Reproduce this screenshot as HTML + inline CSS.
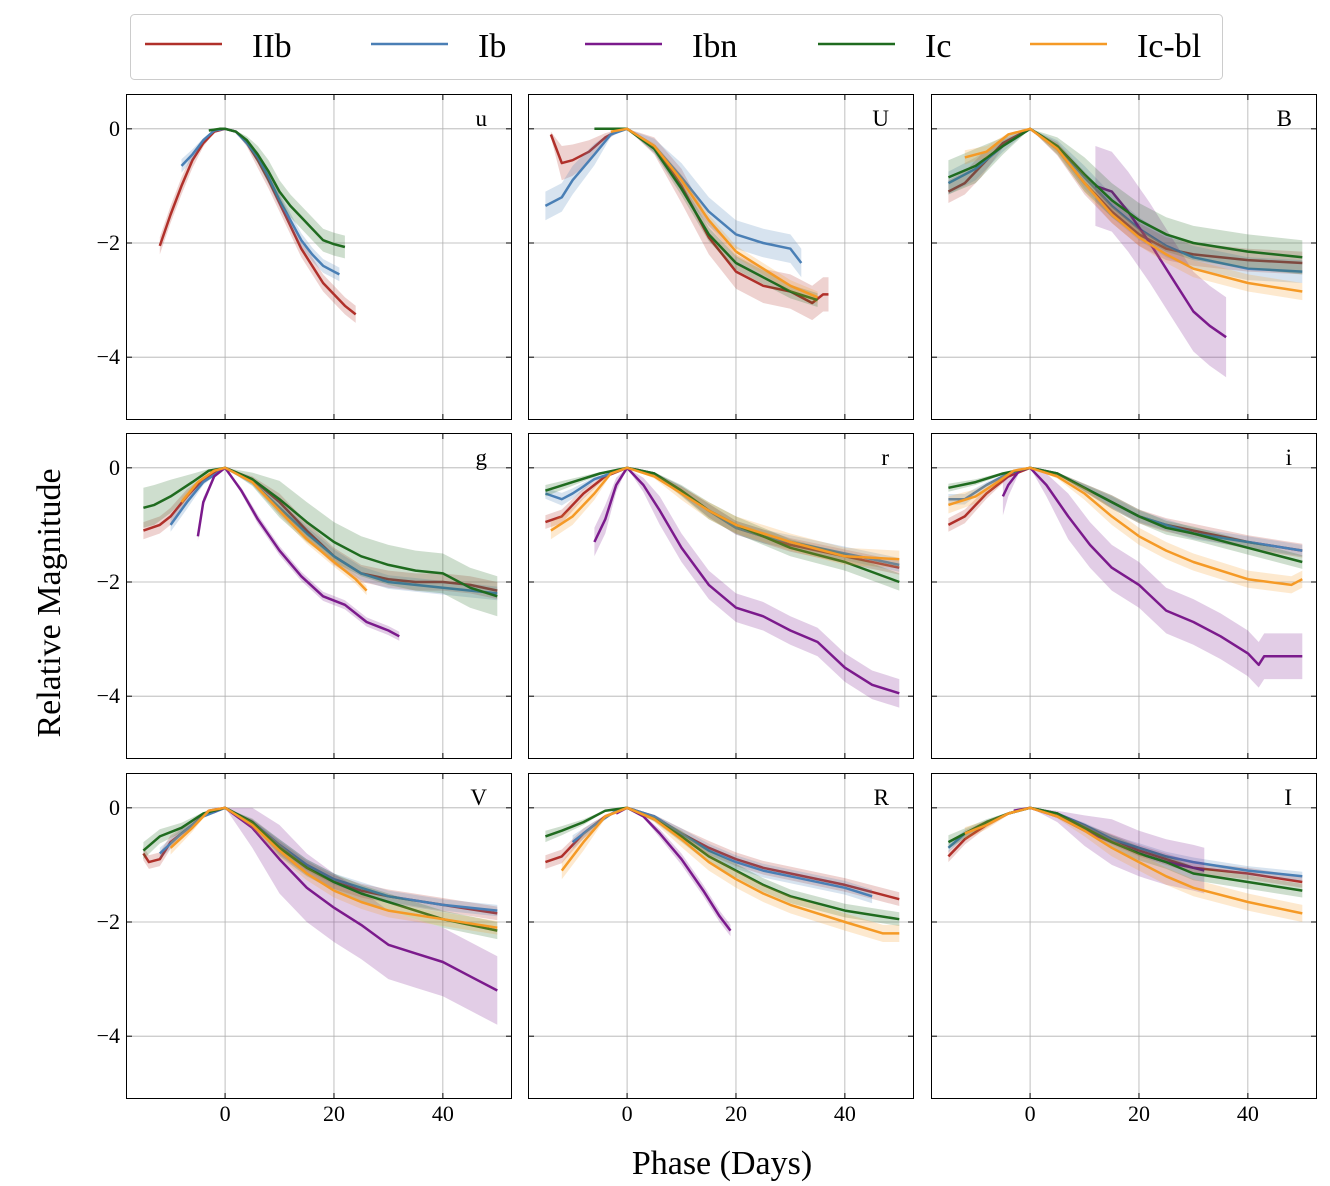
<!DOCTYPE html>
<html><head><meta charset="utf-8">
<style>
html,body{margin:0;padding:0;background:#fff;}
svg{display:block;font-family:"Liberation Serif",serif;}
</style></head>
<body>
<svg id="chart" width="1330" height="1186" viewBox="0 0 1330 1186">
  <rect x="0" y="0" width="1330" height="1186" fill="#fff"/>
  <g>
    <rect x="130.5" y="14.5" width="1092" height="65" rx="4" fill="#fff" stroke="#ccc" stroke-width="1"/>
    <g><line x1="145" y1="44" x2="222" y2="44" stroke="#b0302a" stroke-width="2.5"/><text x="252" y="57" font-size="34">IIb</text></g>
    <g><line x1="371" y1="44" x2="448" y2="44" stroke="#4a7fb5" stroke-width="2.5"/><text x="478" y="57" font-size="34">Ib</text></g>
    <g><line x1="585" y1="44" x2="662" y2="44" stroke="#7b1a8c" stroke-width="2.5"/><text x="692" y="57" font-size="34">Ibn</text></g>
    <g><line x1="818" y1="44" x2="895" y2="44" stroke="#1f6b1f" stroke-width="2.5"/><text x="925" y="57" font-size="34">Ic</text></g>
    <g><line x1="1030" y1="44" x2="1107" y2="44" stroke="#f59a26" stroke-width="2.5"/><text x="1137" y="57" font-size="34">Ic-bl</text></g>
  </g>
  <text x="60" y="603" font-size="34" text-anchor="middle" transform="rotate(-90 60 603)">Relative Magnitude</text>
  <text x="722" y="1174" font-size="34" text-anchor="middle">Phase (Days)</text>
  <g id="panels"></g>
</svg>
<script>
// ---- chart data ----
const xTicks = [0, 20, 40];
const yTicks = [0, -2, -4];
const xTickLabels = ["0", "20", "40"];
const yTickLabels = ["0", "\u22122", "\u22124"];
const typeNames = ["IIb", "Ib", "Ibn", "Ic", "Ic-bl"];
const typeColors = ["#b0302a", "#4a7fb5", "#7b1a8c", "#1f6b1f", "#f59a26"];
const bandNames = ["u", "U", "B", "g", "r", "i", "V", "R", "I"];

// u band
const u_IIb_t = [-12,-10,-8,-6,-4,-2,0,2,4,6,8,10,12,14,16,18,20,22,24];
const u_IIb_m = [-2.05,-1.5,-1.0,-0.55,-0.25,-0.05,0,-0.05,-0.25,-0.55,-0.9,-1.3,-1.7,-2.1,-2.4,-2.7,-2.9,-3.1,-3.25];
const u_Ib_t = [-8,-6,-4,-2,0,2,4,6,8,10,12,14,16,18,20,21];
const u_Ib_m = [-0.65,-0.45,-0.2,-0.03,0,-0.05,-0.25,-0.5,-0.85,-1.25,-1.6,-1.95,-2.2,-2.4,-2.5,-2.55];
const u_Ic_t = [-3,-1,0,2,4,6,8,10,12,14,16,18,20,22];
const u_Ic_m = [-0.03,0,0,-0.05,-0.2,-0.45,-0.75,-1.1,-1.35,-1.55,-1.75,-1.95,-2.02,-2.07];
// U band
const U_IIb_t = [-14,-12,-10,-7,-4,-1,0,5,10,15,20,25,30,34,36,37];
const U_IIb_m = [-0.1,-0.6,-0.55,-0.4,-0.15,0,0,-0.3,-1.0,-1.9,-2.5,-2.75,-2.85,-3.05,-2.9,-2.9];
const U_Ib_t = [-15,-12,-10,-6,-3,0,5,10,15,20,25,30,32];
const U_Ib_m = [-1.35,-1.2,-0.9,-0.45,-0.1,0,-0.3,-0.85,-1.45,-1.85,-2.0,-2.1,-2.35];
const U_Ic_t = [-6,0,5,10,15,20,25,30,35];
const U_Ic_m = [0,0,-0.35,-1.05,-1.85,-2.35,-2.6,-2.85,-3.0];
const U_Icbl_t = [-3,0,5,10,15,20,25,30,35];
const U_Icbl_m = [-0.05,0,-0.3,-0.9,-1.6,-2.15,-2.45,-2.75,-2.95];
// B band
const B_IIb_t = [-15,-12,-9,-5,0,5,10,15,20,25,30,35,40,50];
const B_IIb_m = [-1.1,-0.95,-0.65,-0.25,0,-0.35,-0.95,-1.45,-1.85,-2.1,-2.2,-2.25,-2.3,-2.35];
const B_Ib_t = [-15,-10,-5,0,5,10,15,20,25,30,35,40,50];
const B_Ib_m = [-0.95,-0.7,-0.3,0,-0.3,-0.85,-1.35,-1.75,-2.05,-2.25,-2.35,-2.45,-2.5];
const B_Ibn_t = [12,15,18,22,26,30,33,36];
const B_Ibn_m = [-1.0,-1.1,-1.45,-2.0,-2.6,-3.2,-3.45,-3.65];
const B_Ic_t = [-15,-10,-5,0,5,10,15,20,25,30,40,50];
const B_Ic_m = [-0.85,-0.65,-0.3,0,-0.3,-0.8,-1.25,-1.6,-1.85,-2.0,-2.15,-2.25];
const B_Icbl_t = [-12,-8,-4,0,5,10,15,20,25,30,40,50];
const B_Icbl_m = [-0.5,-0.4,-0.1,0,-0.35,-0.95,-1.5,-1.9,-2.2,-2.45,-2.7,-2.85];
// g band
const g_IIb_t = [-15,-12,-10,-7,-4,0,5,10,15,20,25,30,35,40,45,50];
const g_IIb_m = [-1.1,-1.0,-0.85,-0.5,-0.2,0,-0.2,-0.6,-1.1,-1.55,-1.85,-1.95,-2.0,-2.0,-2.05,-2.15];
const g_Ib_t = [-10,-7,-4,0,5,10,15,20,25,30,40,50];
const g_Ib_m = [-1.0,-0.6,-0.25,0,-0.25,-0.7,-1.15,-1.55,-1.85,-2.0,-2.1,-2.2];
const g_Ibn_t = [-5,-4,-2,0,3,6,10,14,18,22,26,30,32];
const g_Ibn_m = [-1.2,-0.6,-0.15,0,-0.4,-0.9,-1.45,-1.9,-2.25,-2.4,-2.7,-2.85,-2.95];
const g_Ic_t = [-15,-13,-10,-6,-3,0,5,10,15,20,25,30,35,40,45,50];
const g_Ic_m = [-0.7,-0.65,-0.5,-0.25,-0.05,0,-0.2,-0.55,-0.95,-1.3,-1.55,-1.7,-1.8,-1.85,-2.1,-2.25];
const g_Icbl_t = [-8,-5,-2,0,5,10,15,20,24,26];
const g_Icbl_m = [-0.6,-0.25,-0.05,0,-0.25,-0.75,-1.25,-1.65,-1.95,-2.15];
// r band
const r_IIb_t = [-15,-12,-8,-4,0,5,10,15,20,25,30,40,50];
const r_IIb_m = [-0.95,-0.85,-0.45,-0.15,0,-0.1,-0.4,-0.75,-1.05,-1.2,-1.35,-1.55,-1.75];
const r_Ib_t = [-15,-12,-10,-6,0,5,10,15,20,25,30,40,50];
const r_Ib_m = [-0.45,-0.55,-0.45,-0.2,0,-0.1,-0.4,-0.75,-1.05,-1.2,-1.3,-1.5,-1.7];
const r_Ibn_t = [-6,-4,-2,0,3,6,10,15,20,25,30,35,40,45,50];
const r_Ibn_m = [-1.3,-0.9,-0.3,0,-0.3,-0.75,-1.4,-2.05,-2.45,-2.6,-2.85,-3.05,-3.5,-3.8,-3.95];
const r_Ic_t = [-15,-10,-5,0,5,10,15,20,25,30,40,50];
const r_Ic_m = [-0.4,-0.25,-0.1,0,-0.1,-0.4,-0.75,-1.0,-1.2,-1.4,-1.65,-2.0];
const r_Icbl_t = [-14,-10,-6,-3,0,5,10,15,20,25,30,40,50];
const r_Icbl_m = [-1.1,-0.85,-0.45,-0.1,0,-0.15,-0.45,-0.75,-1.0,-1.15,-1.3,-1.55,-1.6];
// i band
const i_IIb_t = [-15,-12,-8,-4,0,5,10,15,20,25,30,40,50];
const i_IIb_m = [-1.0,-0.85,-0.45,-0.15,0,-0.1,-0.35,-0.6,-0.85,-1.0,-1.1,-1.3,-1.45];
const i_Ib_t = [-15,-12,-8,-4,0,5,10,15,20,25,30,40,50];
const i_Ib_m = [-0.55,-0.55,-0.3,-0.1,0,-0.1,-0.35,-0.6,-0.85,-1.0,-1.15,-1.3,-1.45];
const i_Ibn_t = [-5,-4,-2,0,3,7,11,15,20,25,30,35,40,42,43,50];
const i_Ibn_m = [-0.5,-0.3,-0.05,0,-0.3,-0.85,-1.35,-1.75,-2.05,-2.5,-2.7,-2.95,-3.25,-3.45,-3.3,-3.3];
const i_Ic_t = [-15,-10,-5,0,5,10,15,20,25,30,40,50];
const i_Ic_m = [-0.35,-0.25,-0.1,0,-0.1,-0.35,-0.6,-0.85,-1.05,-1.15,-1.4,-1.65];
const i_Icbl_t = [-15,-10,-6,-3,0,5,10,15,20,25,30,40,48,50];
const i_Icbl_m = [-0.65,-0.5,-0.25,-0.05,0,-0.15,-0.45,-0.85,-1.2,-1.45,-1.65,-1.95,-2.05,-1.95];
// V band
const V_IIb_t = [-15,-14,-12,-10,-6,-3,0,5,10,15,20,25,30,40,50];
const V_IIb_m = [-0.8,-0.95,-0.9,-0.6,-0.3,-0.05,0,-0.25,-0.7,-1.05,-1.3,-1.45,-1.55,-1.7,-1.85];
const V_Ib_t = [-12,-8,-4,0,5,10,15,20,25,30,40,50];
const V_Ib_m = [-0.8,-0.45,-0.15,0,-0.25,-0.65,-1.0,-1.25,-1.4,-1.55,-1.7,-1.8];
const V_Ibn_t = [-2,0,5,10,15,20,25,30,35,40,45,50];
const V_Ibn_m = [-0.05,0,-0.35,-0.9,-1.4,-1.75,-2.05,-2.4,-2.55,-2.7,-2.95,-3.2];
const V_Ic_t = [-15,-12,-8,-4,0,5,10,15,20,25,30,40,50];
const V_Ic_m = [-0.75,-0.5,-0.35,-0.1,0,-0.25,-0.7,-1.05,-1.3,-1.5,-1.65,-1.95,-2.15];
const V_Icbl_t = [-10,-6,-3,0,5,10,15,20,25,30,40,50];
const V_Icbl_m = [-0.7,-0.35,-0.05,0,-0.3,-0.75,-1.15,-1.45,-1.65,-1.8,-1.95,-2.1];
// R band
const R_IIb_t = [-15,-12,-8,-4,0,5,10,15,20,25,30,40,50];
const R_IIb_m = [-0.95,-0.85,-0.45,-0.15,0,-0.15,-0.45,-0.7,-0.9,-1.05,-1.15,-1.35,-1.6];
const R_Ib_t = [-10,-6,-2,0,5,10,15,20,25,30,40,45];
const R_Ib_m = [-0.6,-0.3,-0.05,0,-0.15,-0.45,-0.75,-0.95,-1.1,-1.2,-1.4,-1.55];
const R_Ibn_t = [-2,0,3,6,10,14,17,19];
const R_Ibn_m = [-0.1,0,-0.15,-0.45,-0.9,-1.45,-1.9,-2.15];
const R_Ic_t = [-15,-12,-8,-4,0,5,10,15,20,25,30,40,50];
const R_Ic_m = [-0.5,-0.4,-0.25,-0.05,0,-0.2,-0.5,-0.85,-1.1,-1.35,-1.55,-1.8,-1.95];
const R_Icbl_t = [-12,-8,-4,0,5,10,15,20,25,30,40,47,50];
const R_Icbl_m = [-1.1,-0.6,-0.15,0,-0.2,-0.55,-0.95,-1.25,-1.5,-1.7,-2.0,-2.2,-2.2];
// I band
const I_IIb_t = [-15,-12,-8,-4,0,5,10,15,20,25,30,40,50];
const I_IIb_m = [-0.85,-0.55,-0.3,-0.1,0,-0.1,-0.35,-0.55,-0.75,-0.9,-1.05,-1.15,-1.3];
const I_Ib_t = [-15,-12,-8,-4,0,5,10,15,20,25,30,40,50];
const I_Ib_m = [-0.7,-0.45,-0.25,-0.1,0,-0.1,-0.3,-0.55,-0.7,-0.85,-0.95,-1.1,-1.2];
const I_Ibn_t = [-3,0,5,10,15,20,25,30,32];
const I_Ibn_m = [-0.05,0,-0.15,-0.4,-0.6,-0.8,-0.95,-1.05,-1.1];
const I_Ic_t = [-15,-12,-8,-4,0,5,10,15,20,25,30,40,50];
const I_Ic_m = [-0.6,-0.45,-0.25,-0.1,0,-0.1,-0.35,-0.6,-0.8,-0.95,-1.15,-1.3,-1.45];
const I_Icbl_t = [-12,-8,-4,0,5,10,15,20,25,30,40,50];
const I_Icbl_m = [-0.45,-0.3,-0.1,0,-0.15,-0.4,-0.7,-0.95,-1.2,-1.4,-1.65,-1.85];

// band half-widths (mag) per type, per panel: [IIb, Ib, Ibn, Ic, Ic-bl]
const spread_u = [0.15,0.12,0,0.2,0];
const spread_U = [0.3,0.25,0,0.12,0.1];
const spread_B = [0.2,0.2,0.7,0.3,0.15];
const spread_g = [0.15,0.12,0.08,0.35,0.08];
const spread_r = [0.12,0.12,0.25,0.15,0.15];
const spread_i = [0.12,0.1,0.4,0.12,0.15];
const spread_V = [0.12,0.1,0.6,0.15,0.12];
const spread_R = [0.12,0.12,0.1,0.12,0.15];
const spread_I = [0.1,0.08,0.4,0.12,0.15];

const panelSeries = {
  u: [[u_IIb_t,u_IIb_m],[u_Ib_t,u_Ib_m],null,[u_Ic_t,u_Ic_m],null],
  U: [[U_IIb_t,U_IIb_m],[U_Ib_t,U_Ib_m],null,[U_Ic_t,U_Ic_m],[U_Icbl_t,U_Icbl_m]],
  B: [[B_IIb_t,B_IIb_m],[B_Ib_t,B_Ib_m],[B_Ibn_t,B_Ibn_m],[B_Ic_t,B_Ic_m],[B_Icbl_t,B_Icbl_m]],
  g: [[g_IIb_t,g_IIb_m],[g_Ib_t,g_Ib_m],[g_Ibn_t,g_Ibn_m],[g_Ic_t,g_Ic_m],[g_Icbl_t,g_Icbl_m]],
  r: [[r_IIb_t,r_IIb_m],[r_Ib_t,r_Ib_m],[r_Ibn_t,r_Ibn_m],[r_Ic_t,r_Ic_m],[r_Icbl_t,r_Icbl_m]],
  i: [[i_IIb_t,i_IIb_m],[i_Ib_t,i_Ib_m],[i_Ibn_t,i_Ibn_m],[i_Ic_t,i_Ic_m],[i_Icbl_t,i_Icbl_m]],
  V: [[V_IIb_t,V_IIb_m],[V_Ib_t,V_Ib_m],[V_Ibn_t,V_Ibn_m],[V_Ic_t,V_Ic_m],[V_Icbl_t,V_Icbl_m]],
  R: [[R_IIb_t,R_IIb_m],[R_Ib_t,R_Ib_m],[R_Ibn_t,R_Ibn_m],[R_Ic_t,R_Ic_m],[R_Icbl_t,R_Icbl_m]],
  I: [[I_IIb_t,I_IIb_m],[I_Ib_t,I_Ib_m],[I_Ibn_t,I_Ibn_m],[I_Ic_t,I_Ic_m],[I_Icbl_t,I_Icbl_m]]
};
const panelSpread = {u:spread_u,U:spread_U,B:spread_B,g:spread_g,r:spread_r,i:spread_i,V:spread_V,R:spread_R,I:spread_I};

// ---- layout ----
const NS = "http://www.w3.org/2000/svg";
const colX = [126, 528, 931];
const rowY = [94, 433, 773];
const PW = 386, PH = 326;
const XMIN = -18.2, XMAX = 52.7, YMIN = -5.1, YMAX = 0.61;
function el(tag, attrs, parent){ const e=document.createElementNS(NS,tag); for(const k in attrs) e.setAttribute(k,attrs[k]); if(parent) parent.appendChild(e); return e; }
const root = document.getElementById("panels");

bandNames.forEach((band, idx) => {
  const r = Math.floor(idx/3), c = idx%3;
  const x0 = colX[c], y0 = rowY[r];
  const sx = v => x0 + (v - XMIN) / (XMAX - XMIN) * PW;
  const sy = v => y0 + (YMAX - v) / (YMAX - YMIN) * PH;
  const g = el("g", {}, root);
  
  
  const cid = "clip" + idx;
  const cp = el("clipPath", {id: cid}, g);
  el("rect", {x:x0, y:y0, width:PW, height:PH}, cp);
  xTicks.forEach(t => { el("line", {x1:sx(t), x2:sx(t), y1:y0, y2:y0+PH, stroke:"#b0b0b0", "stroke-width":0.8}, g); });
  yTicks.forEach(t => { el("line", {x1:x0, x2:x0+PW, y1:sy(t), y2:sy(t), stroke:"#b0b0b0", "stroke-width":0.8}, g); });
  const data = el("g", {"clip-path":"url(#"+cid+")"}, g);
  const spread = panelSpread[band];
  panelSeries[band].forEach((s, k) => {
    if (!s) return;
    const t = s[0], m = s[1], e = spread[k];
    const w = v => e * Math.min(1, Math.abs(v) / 0.6);
    let up = "", lo = "";
    t.forEach((tt, j) => { up += (j?"L":"M") + sx(tt).toFixed(1) + "," + sy(m[j] + w(m[j])).toFixed(1); });
    for (let j = t.length-1; j >= 0; j--) lo += "L" + sx(t[j]).toFixed(1) + "," + sy(m[j] - w(m[j])).toFixed(1);
    const band_ = el("path", {d: up + lo + "Z", fill: typeColors[k], "fill-opacity": 0.22, stroke: "none"}, data);
    
    
    let d = "";
    t.forEach((tt, j) => { d += (j?"L":"M") + sx(tt).toFixed(1) + "," + sy(m[j]).toFixed(1); });
    const ln = el("path", {d, fill:"none", stroke: typeColors[k], "stroke-width": 2.5, "stroke-linejoin":"round"}, data);
    
    
  });
  el("rect", {x:x0+0.5, y:y0+0.5, width:PW-1, height:PH-1, fill:"none", stroke:"#000", "stroke-width":1}, g);
  xTicks.forEach(t => {
    el("line", {x1:sx(t), x2:sx(t), y1:y0+PH, y2:y0+PH-6, stroke:"#000"}, g);
    el("line", {x1:sx(t), x2:sx(t), y1:y0, y2:y0+6, stroke:"#000"}, g);
  });
  yTicks.forEach(t => {
    el("line", {x1:x0, x2:x0+6, y1:sy(t), y2:sy(t), stroke:"#000"}, g);
    el("line", {x1:x0+PW, x2:x0+PW-6, y1:sy(t), y2:sy(t), stroke:"#000"}, g);
  });
  if (c === 0) yTicks.forEach((t, j) => {
    const tx = el("text", {x:x0-6, y:sy(t)+7, "font-size":22, "text-anchor":"end"}, g);
    tx.textContent = yTickLabels[j];
    
    
  });
  if (r === 2) xTicks.forEach((t, j) => {
    const tx = el("text", {x:sx(t), y:y0+PH+22, "font-size":22, "text-anchor":"middle"}, g);
    tx.textContent = xTickLabels[j];
    
    
  });
  const lbl = el("text", {x:x0+PW-25, y:y0+32, "font-size":23, "text-anchor":"end"}, g);
  lbl.textContent = band;
  
  
});
</script>
</body></html>
